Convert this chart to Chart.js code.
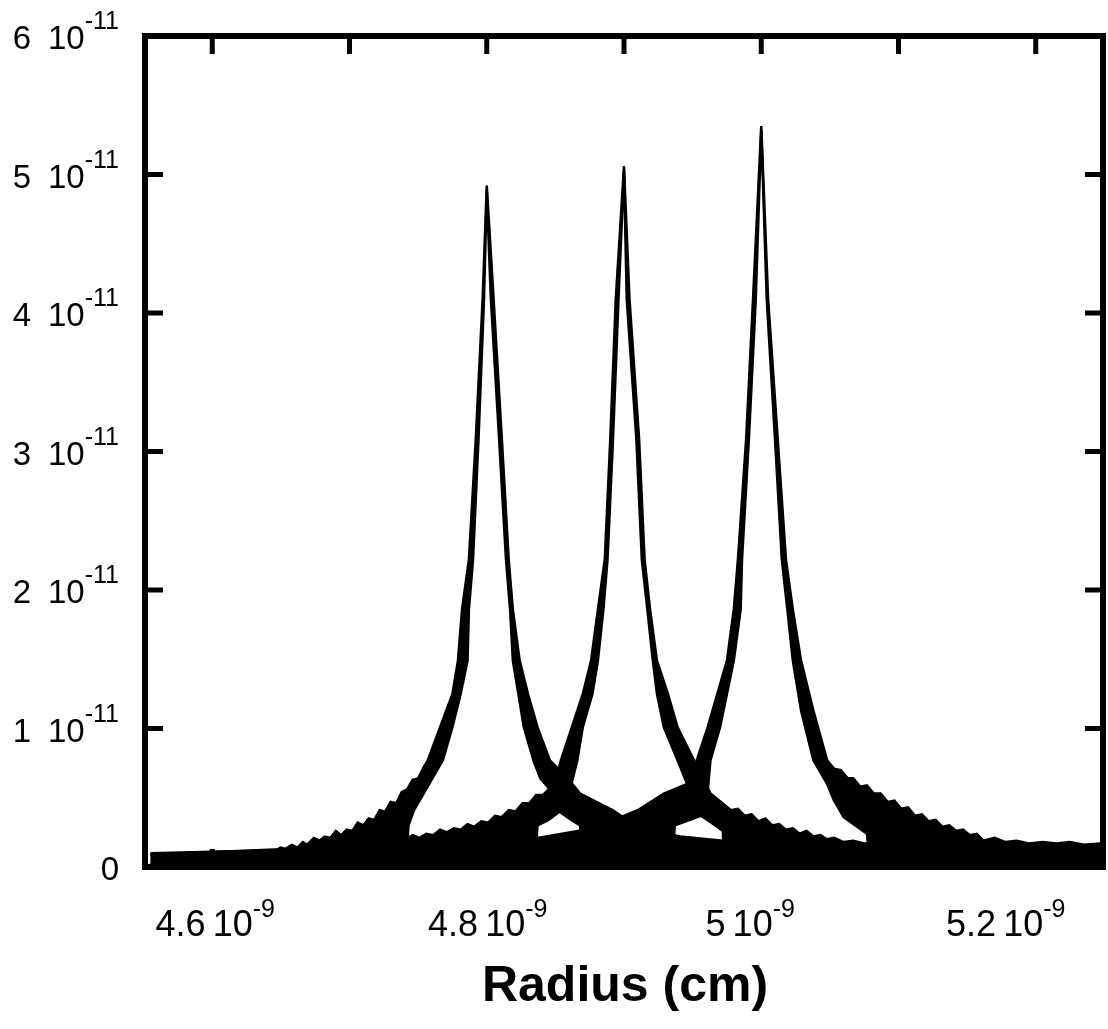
<!DOCTYPE html>
<html>
<head>
<meta charset="utf-8">
<script src="https://cdn.jsdelivr.net/npm/chart.js@4.4.1/dist/chart.umd.min.js"></script>
<style>
  body { margin: 0; background: #fff; }
  canvas { display: block; }
</style>
</head>
<body>
<canvas id="chart" width="1108" height="1029"></canvas>
<script>
// radius in units of 1e-9 cm, signal in units of 1e-11
// each peak is a noisy band: upper edge and lower edge
const peakAUpper = [[4.555, 0.10], [4.600, 0.11], [4.646, 0.12], [4.650, 0.14], [4.653, 0.13], [4.658, 0.16], [4.662, 0.14], [4.666, 0.18], [4.669, 0.16], [4.674, 0.21], [4.678, 0.19], [4.682, 0.22], [4.686, 0.21], [4.690, 0.26], [4.694, 0.23], [4.698, 0.27], [4.702, 0.26], [4.706, 0.32], [4.710, 0.30], [4.714, 0.35], [4.718, 0.34], [4.722, 0.41], [4.726, 0.40], [4.730, 0.47], [4.734, 0.46], [4.738, 0.54], [4.742, 0.56], [4.746, 0.63], [4.750, 0.64], [4.754, 0.72], [4.757, 0.77], [4.766, 1.01], [4.775, 1.25], [4.779, 1.49], [4.782, 1.86], [4.787, 2.22], [4.792, 3.09], [4.797, 4.10], [4.800, 4.92], [4.805, 4.10], [4.811, 3.09], [4.816, 2.22], [4.819, 1.86], [4.824, 1.49], [4.830, 1.25], [4.837, 1.01], [4.846, 0.77], [4.859, 0.64], [4.868, 0.53], [4.892, 0.41], [4.911, 0.28], [4.941, 0.22], [4.992, 0.17], [5.065, 0.14], [5.247, 0.12]]
const peakALower = [[4.555, 0.02], [4.741, 0.02], [4.743, 0.30], [4.747, 0.41], [4.754, 0.53], [4.768, 0.77], [4.775, 1.01], [4.781, 1.25], [4.786, 1.49], [4.787, 1.86], [4.790, 2.22], [4.794, 3.09], [4.798, 4.10], [4.800, 4.88], [4.803, 4.10], [4.809, 3.09], [4.814, 2.22], [4.817, 1.86], [4.819, 1.49], [4.823, 1.25], [4.827, 1.01], [4.834, 0.77], [4.839, 0.64], [4.846, 0.56], [4.853, 0.40], [4.860, 0.35], [4.868, 0.30], [4.870, 0.02], [5.247, 0.02]]

const peakBUpper = [[4.555, 0.09], [4.628, 0.12], [4.701, 0.15], [4.706, 0.17], [4.711, 0.16], [4.716, 0.18], [4.721, 0.17], [4.726, 0.20], [4.731, 0.18], [4.736, 0.21], [4.741, 0.20], [4.746, 0.23], [4.751, 0.21], [4.756, 0.24], [4.761, 0.23], [4.766, 0.27], [4.771, 0.25], [4.776, 0.28], [4.781, 0.27], [4.786, 0.31], [4.791, 0.29], [4.796, 0.33], [4.801, 0.32], [4.806, 0.37], [4.811, 0.36], [4.816, 0.41], [4.821, 0.40], [4.826, 0.46], [4.831, 0.46], [4.836, 0.52], [4.841, 0.52], [4.846, 0.57], [4.849, 0.57], [4.854, 0.77], [4.862, 1.01], [4.870, 1.25], [4.876, 1.49], [4.881, 1.86], [4.886, 2.22], [4.890, 3.09], [4.894, 4.10], [4.900, 5.06], [4.904, 4.10], [4.911, 3.09], [4.915, 2.22], [4.919, 1.86], [4.924, 1.49], [4.932, 1.25], [4.939, 1.01], [4.951, 0.77], [4.963, 0.53], [4.978, 0.41], [4.983, 0.42], [4.988, 0.37], [4.993, 0.38], [4.998, 0.33], [5.003, 0.35], [5.008, 0.30], [5.013, 0.31], [5.018, 0.27], [5.023, 0.28], [5.028, 0.24], [5.033, 0.26], [5.038, 0.22], [5.043, 0.23], [5.048, 0.20], [5.053, 0.21], [5.060, 0.18], [5.067, 0.19], [5.075, 0.17], [5.085, 0.17], [5.101, 0.15], [5.247, 0.13]]
const peakBLower = [[4.555, 0.02], [4.835, 0.02], [4.837, 0.30], [4.845, 0.34], [4.853, 0.40], [4.861, 0.57], [4.866, 0.77], [4.870, 1.01], [4.877, 1.25], [4.881, 1.49], [4.885, 1.86], [4.888, 2.22], [4.892, 3.09], [4.896, 4.10], [4.900, 5.03], [4.902, 4.10], [4.909, 3.09], [4.913, 2.22], [4.917, 1.86], [4.921, 1.49], [4.924, 1.25], [4.929, 1.01], [4.939, 0.77], [4.948, 0.55], [4.956, 0.37], [4.965, 0.31], [4.972, 0.26], [4.973, 0.02], [5.247, 0.02]]

const peakCUpper = [[4.555, 0.09], [4.701, 0.12], [4.773, 0.15], [4.837, 0.21], [4.878, 0.28], [4.910, 0.41], [4.929, 0.53], [4.951, 0.62], [4.953, 0.77], [4.961, 1.01], [4.968, 1.25], [4.975, 1.49], [4.980, 1.86], [4.983, 2.22], [4.989, 3.09], [4.994, 4.10], [5.000, 5.35], [5.005, 4.10], [5.012, 3.09], [5.018, 2.22], [5.023, 1.86], [5.029, 1.49], [5.038, 1.13], [5.048, 0.77], [5.053, 0.71], [5.058, 0.70], [5.063, 0.64], [5.067, 0.64], [5.072, 0.58], [5.077, 0.59], [5.082, 0.53], [5.087, 0.53], [5.092, 0.47], [5.097, 0.48], [5.102, 0.42], [5.107, 0.43], [5.112, 0.37], [5.117, 0.38], [5.122, 0.33], [5.127, 0.34], [5.132, 0.29], [5.137, 0.30], [5.142, 0.26], [5.147, 0.27], [5.152, 0.23], [5.157, 0.24], [5.162, 0.19], [5.170, 0.21], [5.178, 0.18], [5.186, 0.19], [5.195, 0.17], [5.205, 0.18], [5.215, 0.17], [5.225, 0.18], [5.235, 0.16], [5.247, 0.17]]
const peakCLower = [[4.555, 0.02], [4.935, 0.02], [4.937, 0.30], [4.945, 0.33], [4.956, 0.37], [4.961, 0.55], [4.963, 0.77], [4.970, 1.01], [4.975, 1.25], [4.980, 1.49], [4.985, 1.86], [4.986, 2.22], [4.991, 3.09], [4.996, 4.10], [5.000, 5.32], [5.004, 4.10], [5.010, 3.09], [5.015, 2.22], [5.019, 1.86], [5.023, 1.49], [5.029, 1.13], [5.038, 0.77], [5.048, 0.60], [5.053, 0.48], [5.060, 0.36], [5.077, 0.24], [5.079, 0.02], [5.247, 0.02]]

const xTickValues = [4.6, 4.7, 4.8, 4.9, 5.0, 5.1, 5.2]
const xLabelValues = [4.6, 4.8, 5.0, 5.2]
const xLabelText = ['4.6', '4.8', '5', '5.2']
const xExponent = '-9'
const yTickValues = [1, 2, 3, 4, 5]
const yLabelValues = [0, 1, 2, 3, 4, 5, 6]
const yLabelText = ['0', '1', '2', '3', '4', '5', '6']
const yExponent = '-11'
const xTitle = 'Radius (cm)'

const FONT = '"Liberation Sans", Arial, Helvetica, sans-serif'

function pts (list) {
  return list.map(p => ({ x: p[0], y: p[1] }))
}

function band (upper, lower) {
  const line = { borderColor: '#000', borderWidth: 2.5, pointRadius: 0, tension: 0 }
  return [
    Object.assign({ data: pts(upper), fill: false }, line),
    Object.assign({ data: pts(lower), fill: '-1', backgroundColor: '#000' }, line)
  ]
}

// draws "m 10^e" with a raised exponent
function sciLabel (ctx, mant, exp, x, baseline, align, size, supSize, gap, rise) {
  ctx.font = size + 'px ' + FONT
  const wm = ctx.measureText(mant).width
  ctx.textAlign = 'left'
  if (!exp) {
    const start = align === 'right' ? x - wm : x - wm / 2
    ctx.fillText(mant, start, baseline)
    return
  }
  const w10 = ctx.measureText('10').width
  ctx.font = supSize + 'px ' + FONT
  const we = ctx.measureText(exp).width
  const total = wm + gap + w10 + we
  const start = align === 'right' ? x - total : x - total / 2
  ctx.font = size + 'px ' + FONT
  ctx.fillText(mant, start, baseline)
  ctx.fillText('10', start + wm + gap, baseline)
  ctx.font = supSize + 'px ' + FONT
  ctx.fillText(exp, start + wm + gap + w10, baseline - rise)
}

const framePlugin = {
  id: 'frame',
  afterDraw (chart) {
    const { ctx, chartArea: a, scales } = chart
    const xs = scales.x
    const ys = scales.y
    ctx.save()
    ctx.strokeStyle = '#000'
    ctx.fillStyle = '#000'
    ctx.lineWidth = 6
    ctx.strokeRect(a.left, a.top, a.right - a.left, a.bottom - a.top)

    // inward ticks
    const len = 18
    ctx.lineWidth = 5
    ctx.beginPath()
    xTickValues.forEach(v => {
      const px = xs.getPixelForValue(v)
      ctx.moveTo(px, a.top); ctx.lineTo(px, a.top + len)
      ctx.moveTo(px, a.bottom); ctx.lineTo(px, a.bottom - len)
    })
    yTickValues.forEach(v => {
      const py = ys.getPixelForValue(v)
      ctx.moveTo(a.left, py); ctx.lineTo(a.left + len, py)
      ctx.moveTo(a.right, py); ctx.lineTo(a.right - len, py)
    })
    ctx.stroke()

    // tick labels
    ctx.textBaseline = 'alphabetic'
    const xShift = [3, 1, -11, -30]
    xLabelValues.forEach((v, i) => {
      const px = xs.getPixelForValue(v) + xShift[i]
      sciLabel(ctx, xLabelText[i], xExponent, px, 936, 'center', 36, 25, 7, 19)
    })
    yLabelValues.forEach((v, i) => {
      const py = ys.getPixelForValue(v)
      sciLabel(ctx, yLabelText[i], v === 0 ? '' : yExponent, 119, py + 13, 'right', 33, 25, 17, 20)
    })

    // axis title
    ctx.font = 'bold 50px ' + FONT
    ctx.textAlign = 'center'
    ctx.fillText(xTitle, 625, 1001)
    ctx.restore()
  }
}

new Chart(document.getElementById('chart'), {
  type: 'line',
  data: {
    datasets: [
      ...band(peakAUpper, peakALower),
      ...band(peakBUpper, peakBLower),
      ...band(peakCUpper, peakCLower)
    ]
  },
  options: {
    responsive: false,
    animation: false,
    layout: { padding: { left: 145, top: 36, right: 5, bottom: 162 } },
    plugins: { legend: { display: false }, tooltip: { enabled: false } },
    scales: {
      x: { type: 'linear', min: 4.551, max: 5.249, display: false },
      y: { type: 'linear', min: 0, max: 6, display: false }
    }
  },
  plugins: [framePlugin]
})
</script>
</body>
</html>
